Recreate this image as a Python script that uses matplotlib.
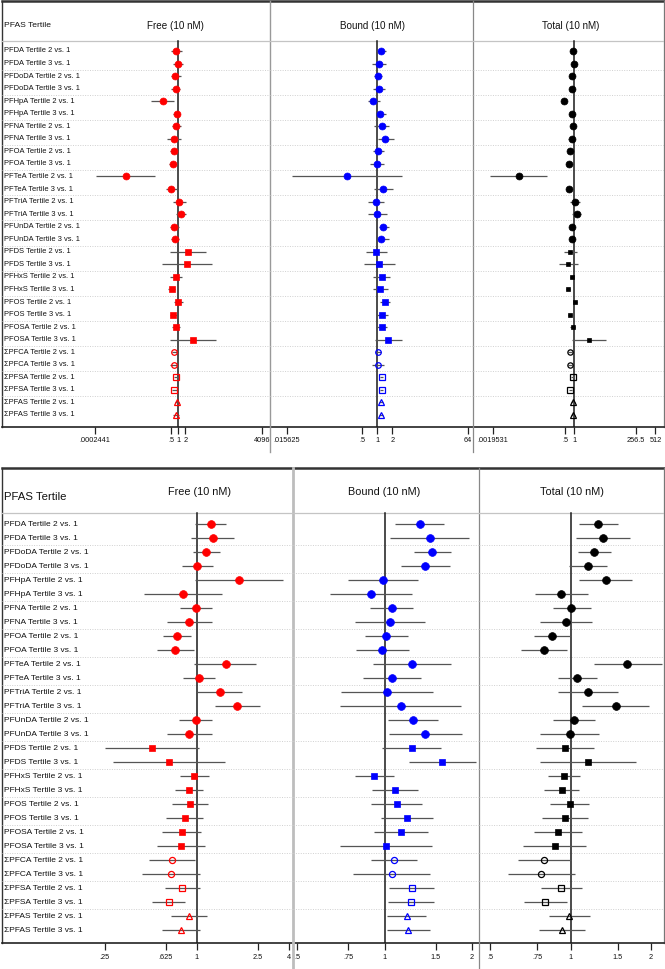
import matplotlib
matplotlib.use("Agg")
import matplotlib.pyplot as plt
from matplotlib.ticker import NullLocator

plt.rcParams['font.family'] = ['Liberation Sans', 'DejaVu Sans']

W, H = 665, 969

compounds = ["PFDA", "PFDoDA", "PFHpA", "PFNA", "PFOA", "PFTeA", "PFTriA", "PFUnDA",
             "PFDS", "PFHxS", "PFOS", "PFOSA", "\u03a3PFCA", "\u03a3PFSA", "\u03a3PFAS"]
labels = [f"{c} Tertile {t} vs. 1" for c in compounds for t in (2, 3)]
# marker kind per compound: filled circle / filled square / open circle / open square / open triangle
kinds = ["fo"] * 8 + ["fs"] * 4 + ["oo", "os", "o^"]

# ---- top figure (wide log2 axes) ----
top_free_est = [0.79, 1.0, 0.74, 0.77, 0.21, 0.88, 0.82, 0.63, 0.65, 0.59, 0.0053, 0.50, 1.10, 1.30, 0.65,
                0.72, 2.7, 2.45, 0.77, 0.51, 0.97, 0.61, 0.77, 4.3, 0.65, 0.63, 0.79, 0.63, 0.88, 0.79]
top_free_lo = [0.47, 0.61, 0.47, 0.50, 0.066, 0.61, 0.53, 0.33, 0.44, 0.40, 0.00028, 0.29, 0.61, 0.79, 0.44,
               0.47, 0.44, 0.20, 0.44, 0.35, 0.65, 0.44, 0.53, 0.44, 0.53, 0.44, 0.65, 0.51, 0.72, 0.61]
top_free_hi = [1.39, 1.54, 1.26, 1.18, 0.67, 1.18, 1.35, 1.26, 0.97, 0.91, 0.098, 0.85, 2.07, 2.07, 1.07,
               1.10, 16.2, 28.5, 1.39, 0.74, 1.54, 0.91, 1.18, 44.0, 0.85, 0.91, 1.03, 0.85, 1.10, 1.03]

top_bound_est = [1.17, 1.08, 1.03, 1.06, 0.83, 1.15, 1.22, 1.44, 1.03, 1.0, 0.25, 1.32, 0.93, 0.98, 1.32,
                 1.18, 0.95, 1.10, 1.22, 1.15, 1.42, 1.22, 1.22, 1.66, 1.05, 1.03, 1.22, 1.22, 1.18, 1.18]
top_bound_lo = [0.94, 0.79, 0.85, 0.83, 0.64, 0.94, 0.87, 1.02, 0.81, 0.72, 0.0198, 0.87, 0.65, 0.65, 1.10,
                0.93, 0.59, 0.54, 0.83, 0.83, 1.13, 0.97, 0.97, 0.90, 0.94, 0.78, 1.13, 1.13, 1.10, 1.10]
top_bound_hi = [1.49, 1.49, 1.26, 1.42, 1.13, 1.49, 1.68, 2.19, 1.36, 1.36, 3.1, 2.02, 1.36, 1.54, 1.68,
                1.68, 1.56, 2.25, 1.79, 1.61, 1.79, 1.61, 1.58, 3.16, 1.17, 1.36, 1.32, 1.32, 1.28, 1.28]

top_total_est = [0.93, 1.0, 0.86, 0.88, 0.45, 0.88, 0.90, 0.84, 0.74, 0.70, 0.0143, 0.66, 1.11, 1.23, 0.84,
                 0.86, 0.74, 0.65, 0.84, 0.63, 1.08, 0.74, 0.90, 3.25, 0.75, 0.75, 0.90, 0.75, 0.95, 0.93]
top_total_lo = [0.72, 0.77, 0.68, 0.70, 0.36, 0.70, 0.71, 0.65, 0.59, 0.56, 0.0016, 0.53, 0.75, 0.86, 0.67,
                0.68, 0.46, 0.32, 0.72, 0.53, 0.93, 0.64, 0.75, 0.86, 0.64, 0.63, 0.79, 0.66, 0.81, 0.80]
top_total_hi = [1.20, 1.29, 1.09, 1.12, 0.57, 1.12, 1.14, 1.08, 0.93, 0.88, 0.126, 0.83, 1.63, 1.76, 1.06,
                1.08, 1.23, 1.32, 0.99, 0.76, 1.26, 0.86, 1.08, 12.0, 0.87, 0.89, 1.02, 0.85, 1.11, 1.08]

# ---- bottom figure (zoomed ln axes) ----
bot_free_est = [1.235, 1.27, 1.157, 1.01, 1.88, 0.81, 0.99, 0.895, 0.744, 0.725, 1.55, 1.036, 1.41, 1.84, 0.99,
                0.89, 0.508, 0.656, 0.96, 0.886, 0.905, 0.835, 0.80, 0.794, 0.69, 0.676, 0.806, 0.653, 0.886, 0.79]
bot_free_lo = [0.98, 0.92, 0.946, 0.80, 0.98, 0.45, 0.78, 0.64, 0.60, 0.547, 0.965, 0.81, 1.01, 1.32, 0.77,
               0.636, 0.25, 0.285, 0.78, 0.718, 0.693, 0.63, 0.59, 0.553, 0.49, 0.435, 0.62, 0.508, 0.676, 0.596]
bot_free_hi = [1.556, 1.76, 1.42, 1.27, 3.65, 1.46, 1.25, 1.25, 0.918, 0.96, 2.45, 1.32, 1.99, 2.58, 1.26,
               1.25, 1.03, 1.52, 1.2, 1.09, 1.175, 1.10, 1.067, 1.13, 0.97, 1.057, 1.046, 0.835, 1.163, 1.057]

bot_bound_est = [1.32, 1.43, 1.456, 1.38, 0.99, 0.90, 1.06, 1.046, 1.013, 0.98, 1.24, 1.06, 1.02, 1.135, 1.255,
                 1.38, 1.24, 1.58, 0.92, 1.085, 1.10, 1.19, 1.14, 1.013, 1.074, 1.06, 1.24, 1.23, 1.19, 1.20]
bot_bound_lo = [1.09, 1.043, 1.26, 1.14, 0.75, 0.65, 0.89, 0.79, 0.853, 0.80, 0.91, 0.84, 0.71, 0.70, 1.03,
                1.035, 0.976, 1.21, 0.79, 0.906, 0.90, 0.97, 0.92, 0.70, 0.895, 0.78, 1.035, 1.03, 1.02, 1.016]
bot_bound_hi = [1.60, 1.96, 1.69, 1.675, 1.30, 1.24, 1.25, 1.38, 1.20, 1.21, 1.70, 1.33, 1.47, 1.84, 1.53,
                1.85, 1.57, 2.06, 1.08, 1.30, 1.345, 1.47, 1.41, 1.46, 1.29, 1.43, 1.48, 1.48, 1.39, 1.43]

bot_total_est = [1.27, 1.32, 1.22, 1.16, 1.35, 0.92, 1.006, 0.958, 0.854, 0.795, 1.63, 1.056, 1.16, 1.48, 1.03,
                 0.994, 0.95, 1.16, 0.94, 0.925, 0.99, 0.95, 0.896, 0.87, 0.797, 0.774, 0.92, 0.80, 0.986, 0.928]
bot_total_lo = [1.075, 1.044, 1.062, 0.983, 1.078, 0.733, 0.856, 0.768, 0.729, 0.654, 1.22, 0.90, 0.90, 1.106, 0.86,
                0.77, 0.74, 0.77, 0.82, 0.795, 0.84, 0.78, 0.73, 0.66, 0.635, 0.58, 0.774, 0.669, 0.83, 0.76]
bot_total_hi = [1.50, 1.67, 1.41, 1.37, 1.70, 1.165, 1.19, 1.20, 1.0, 0.969, 2.20, 1.25, 1.50, 1.97, 1.23,
                1.28, 1.22, 1.75, 1.08, 1.075, 1.17, 1.165, 1.106, 1.14, 1.0, 1.035, 1.10, 0.969, 1.18, 1.135]

top_ticks = {
    "Free": ([2**-12, 0.5, 1, 2, 4096], [".0002441", ".5", "1", "2", "4096"]),
    "Bound": ([2**-6, 0.5, 1, 2, 64], [".015625", ".5", "1", "2", "64"]),
    "Total": ([2**-9, 0.5, 1, 113, 512], [".0019531", ".5", "1", "256.5", "512"]),
}
bot_ticks = {
    "Free": ([0.25, 0.625, 1, 2.5, 4], [".25", ".625", "1", "2.5", "4"]),
    "Bound": ([0.5, 0.75, 1, 1.5, 2], [".5", ".75", "1", "1.5", "2"]),
    "Total": ([0.5, 0.75, 1, 1.5, 2], [".5", ".75", "1", "1.5", "2"]),
}

colors = {"Free": "#ff0000", "Bound": "#0000ff", "Total": "#000000"}

fig = plt.figure(figsize=(W / 100, H / 100), dpi=100)
bg = fig.add_axes([0, 0, 1, 1], zorder=0)
bg.set_xlim(0, W)
bg.set_ylim(H, 0)
bg.axis("off")


def panel(top, bottom, first, step, cols, hdr, tick_fs, lab_fs, hdr_fs, title_fs, msz, title_y, tick_pad):
    i_top = (top - first) / step
    i_bot = (bottom - first) / step
    i_hdr = (hdr - first) / step
    i_title = (title_y - first) / step
    for c in cols:
        name, x0, x1, base, ppu, cpx = c["name"], c["x0"], c["x1"], c["base"], c["ppu"], c["cpx"]
        ax = fig.add_axes([x0 / W, 1 - bottom / H, (x1 - x0) / W, (bottom - top) / H], zorder=2)
        ax.patch.set_alpha(0)
        ax.set_xscale("log", base=base)
        ax.set_xlim(base ** ((x0 - cpx) / ppu), base ** ((x1 - cpx) / ppu))
        ax.set_ylim(i_bot, i_top)
        for s in ax.spines.values():
            s.set_visible(False)
        ax.set_yticks([])
        ticks, tlabs = c["ticks"]
        ax.set_xticks(ticks)
        ax.set_xticklabels(tlabs)
        ax.xaxis.set_minor_locator(NullLocator())
        ax.tick_params(axis="x", length=5, width=0.9, color="#222222", labelsize=tick_fs,
                       pad=tick_pad, labelcolor="#111111")
        ax.axhline(i_hdr, color="#c4c4c4", lw=0.9)
        for k in range(1, 29, 2):
            ax.axhline(k + 0.5, color="#d0d0d0", lw=0.7, ls=(0, (1, 1.5)))
        ax.plot([1, 1], [i_hdr, i_bot], color="#1a1a1a", lw=1.1, zorder=3)
        col = colors[name]
        est, lo, hi = c["est"], c["lo"], c["hi"]
        ys = list(range(len(est)))
        ax.hlines(ys, lo, hi, color="#555555", lw=0.9, zorder=4)
        for j, y in enumerate(ys):
            kind = kinds[j // 2]
            filled = kind[0] == "f"
            m = kind[1]
            size = msz[name][kind]
            ax.plot([est[j]], [y], ls="none", marker=m, ms=size,
                    mfc=col if filled else "none", mec=col, mew=0.9 if not filled else 0.5, zorder=5)
        ax.text((c["tx"] - x0) / (x1 - x0), i_title, c["title"], transform=ax.get_yaxis_transform(),
                ha="center", va="center", fontsize=title_fs, color="#111111")
        if name == "Free":
            tr = ax.get_yaxis_transform()
            lx = (4.5 - x0) / (x1 - x0)
            for j, lab in enumerate(labels):
                ax.text(lx, j, lab, transform=tr, ha="left", va="center", fontsize=lab_fs, color="#111111")
            ax.text(lx, (c["hy"] - first) / step, "PFAS Tertile", transform=tr, ha="left", va="center",
                    fontsize=hdr_fs, color="#111111")


# top panel frame and separators
bg.plot([2, 664], [1, 1], color="#333333", lw=1.8)
bg.plot([2, 2], [1, 427], color="#333333", lw=1.0)
bg.plot([663.5, 663.5], [1, 427], color="#777777", lw=0.9)
bg.plot([2, 664], [427, 427], color="#222222", lw=1.2)
bg.plot([270, 270], [1, 452], color="#999999", lw=1.0)
bg.plot([473, 473], [1, 452], color="#888888", lw=0.9)

# bottom panel frame and separators
bg.plot([2, 664], [468, 468], color="#333333", lw=1.8)
bg.plot([2, 2], [468, 943], color="#333333", lw=1.0)
bg.plot([663.5, 663.5], [468, 943], color="#777777", lw=0.9)
bg.plot([2, 664], [943, 943], color="#222222", lw=1.2)
bg.plot([293, 293], [468, 969], color="#bdbdbd", lw=2.0)
bg.plot([479, 479], [468, 969], color="#888888", lw=0.9)

top_msz = {
    "Free": {"fo": 5.0, "fs": 4.4, "oo": 4.0, "os": 4.0, "o^": 4.2},
    "Bound": {"fo": 5.0, "fs": 4.4, "oo": 4.0, "os": 4.0, "o^": 4.2},
    "Total": {"fo": 5.0, "fs": 2.6, "oo": 3.8, "os": 3.8, "o^": 4.0},
}
bot_msz = {k: {"fo": 5.6, "fs": 5.0, "oo": 4.4, "os": 4.2, "o^": 4.6} for k in colors}

top_cols = [
    dict(name="Free", x0=2, x1=270, base=2, ppu=6.96, cpx=178.4, ticks=top_ticks["Free"],
         est=top_free_est, lo=top_free_lo, hi=top_free_hi, title="Free (10 nM)", tx=175.5, hy=26),
    dict(name="Bound", x0=270, x1=473, base=2, ppu=15.06, cpx=377.3, ticks=top_ticks["Bound"],
         est=top_bound_est, lo=top_bound_lo, hi=top_bound_hi, title="Bound (10 nM)", tx=372),
    dict(name="Total", x0=473, x1=664, base=2, ppu=9.05, cpx=574.0, ticks=top_ticks["Total"],
         est=top_total_est, lo=top_total_lo, hi=top_total_hi, title="Total (10 nM)", tx=570.5),
]
panel(1, 427, 51, 12.55, top_cols, 41, 5.3, 5.4, 6.1, 7.1, top_msz, 25.7, 2.5)

bot_cols = [
    dict(name="Free", x0=2, x1=293, base=2.718281828, ppu=66.4, cpx=196.8, ticks=bot_ticks["Free"],
         est=bot_free_est, lo=bot_free_lo, hi=bot_free_hi, title="Free (10 nM)", tx=199.5, hy=496.7),
    dict(name="Bound", x0=293, x1=479, base=2.718281828, ppu=126.0, cpx=384.6, ticks=bot_ticks["Bound"],
         est=bot_bound_est, lo=bot_bound_lo, hi=bot_bound_hi, title="Bound (10 nM)", tx=384.5),
    dict(name="Total", x0=479, x1=664, base=2.718281828, ppu=116.0, cpx=570.7, ticks=bot_ticks["Total"],
         est=bot_total_est, lo=bot_total_lo, hi=bot_total_hi, title="Total (10 nM)", tx=572),
]
panel(468, 943, 524, 14.0, bot_cols, 513, 5.3, 6.0, 8.2, 7.85, bot_msz, 491.7, 3.0)

fig.savefig("out.png", dpi=100)
